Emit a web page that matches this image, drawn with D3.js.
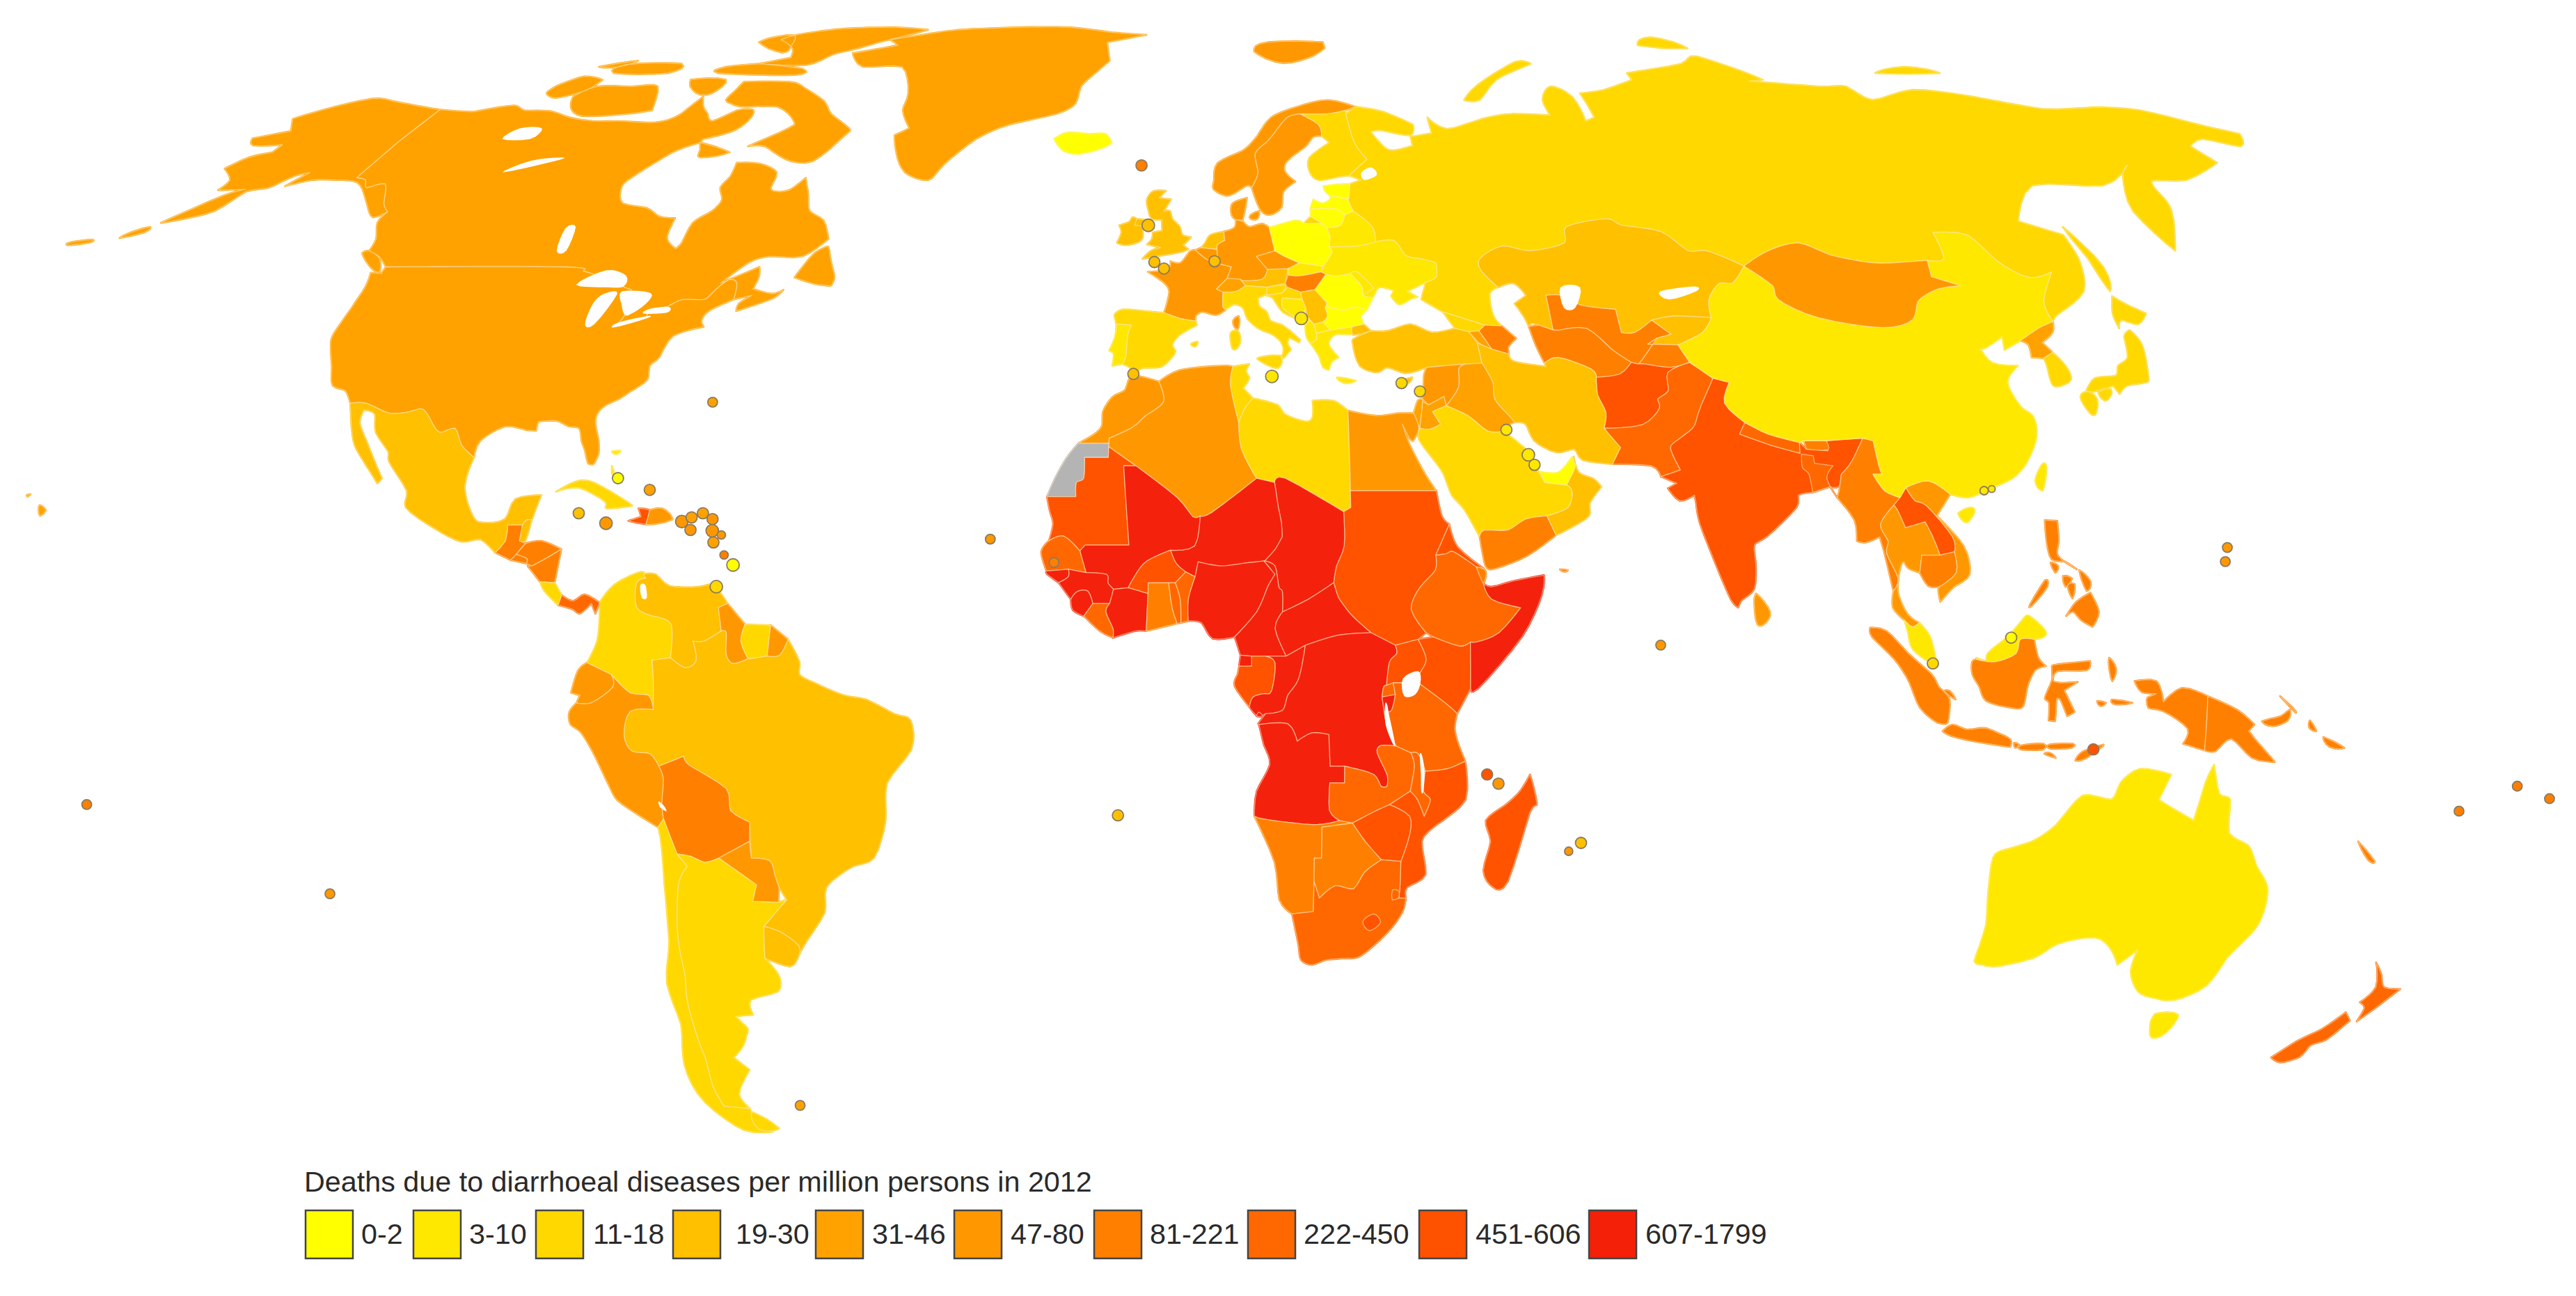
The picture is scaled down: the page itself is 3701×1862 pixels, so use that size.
<!DOCTYPE html>
<html><head><meta charset="utf-8"><title>Deaths due to diarrhoeal diseases</title>
<script src="https://cdn.jsdelivr.net/npm/d3@7"></script>
<style>html,body{margin:0;padding:0;background:#fff}svg{display:block}text{font-family:"Liberation Sans",Arial,sans-serif;fill:#2a2a2a}</style>
</head><body><svg id="map" width="3701" height="1862"></svg>
<script>
const legendTitle = "Deaths due to diarrhoeal diseases per million persons in 2012";
const binLabels = ["0-2","3-10","11-18","19-30","31-46","47-80","81-221","222-450","451-606","607-1799"];
const binColors = ["#FFFF00","#FFE800","#FFD800","#FFC000","#FFA200","#FF9800","#FF8000","#FF6800","#FF5200","#F42008"];
const noDataColor = "#B4B4B4";
// Robinson table
const robLat  = [0,5,10,15,20,25,30,35,40,45,50,55,60,65,70,75,80,85,90];
const robLen  = [1,.9986,.9954,.99,.9822,.973,.96,.9427,.9216,.8962,.8679,.835,.7986,.7597,.7186,.6732,.6213,.5722,.5322];
const robDrop = [0,.062,.124,.186,.248,.31,.372,.434,.4958,.5571,.6176,.6769,.7346,.7903,.8435,.8936,.9394,.9761,1];

const bin0 = ["Iceland","Poland","Estonia","Latvia","Lithuania","Romania","Bulgaria","UAE"];
const bin1 = ["China","Hainan","Taiwan","Australia","Tasmania","Malaysia","Belarus","Ukraine","Moldova","Slovakia","Portugal","Bosnia","Montenegro","Albania","Macedonia","Greece","Crete","Bahamas"];
const bin2 = ["Russia","NovayaZemlya","Sakhalin","Severnaya","NewSiberian","Finland","Spain","Balearic","Italy","Sicily","Sardinia","Slovenia","Croatia","Cuba","CostaRica","Colombia","Suriname","Chile","Argentina","TierraFuego","Saudi","Tunisia","Libya","Georgia","Japan","SKorea"];
const bin3 = ["Mexico","Belize","Venezuela","Brazil","Uruguay","UK","NIreland","Ireland","Netherlands","Austria","Serbia","Turkey","Thrace","Cyprus","Iran","Oman","Kazakhstan","Kyrgyzstan"];
const bin4 = ["Canada","USA","Alaska","Aleutians","Hawaii","Greenland","Switzerland","Armenia","Iraq","Jordan","Israel","NKorea"];
const bin5 = ["Norway","Svalbard","Sweden","Denmark","Germany","Belgium","France","Corsica","Czechia","Morocco","Algeria","Egypt","Syria","Mongolia","SriLanka","Thailand","Vietnam","Ecuador","Peru","Paraguay","Guyana","DomRep","FrGuiana"];
const bin6 = ["Hungary","Azerbaijan","Uzbekistan","Turkmenistan","Tajikistan","Yemen","Socotra","Bhutan","Myanmar","Cambodia","Indonesia","Philippines","PNG","NewCaledonia","Guatemala","Honduras","ElSalvador","Nicaragua","Bolivia","Ghana","Djibouti","Namibia","Botswana"];
const bin7 = ["Pakistan","Nepal","Bangladesh","NewZealand","Panama","Senegal","Liberia","Togo","Benin","Ethiopia","Rwanda","Tanzania","Zambia","Malawi","SouthAfrica","Swaziland"];
const bin8 = ["Afghanistan","India","Laos","Haiti","Sudan","Eritrea","Mauritania","BurkinaFaso","Gabon","Uganda","Kenya","Mozambique","Zimbabwe","Lesotho","Madagascar"];
const bin9 = ["Mali","Niger","Chad","GuineaBissau","Guinea","SierraLeone","IvoryCoast","Nigeria","Cameroon","CAR","EqGuinea","Congo","DRC","Burundi","Somalia","Angola"];
const binMembers = [bin0,bin1,bin2,bin3,bin4,bin5,bin6,bin7,bin8,bin9];
const noData = ["WesternSahara"];
const lakes = ["Superior","Michigan","Huron","Erie","Ontario","GreatBear","GreatSlave","Winnipeg","Victoria","Tanganyika","Nyasa","Maracaibo","Titicaca","Aral","Balkhash","Ladoga"];

// tiny-state markers: name, lon, lat, bin, radius (placed on the marker grid below)
const markers = [["Faroe",-5.8,62.6,6,8],["Man",-4.3,54.8,3,9],["Guernsey",-3.2,50.2,3,8],["Jersey",-1.7,49.4,3,8],["Luxembourg",6.2,50.3,3,8],["Montenegro",18.9,43.3,1,9],["Malta",14,36.3,1,9],["Gibraltar",-6,36.6,3,8],["CyprusM",32.6,35.5,2,8],["Lebanon",35.1,34.5,2,8],["Kuwait",46.7,29.9,1,8],["Bahrain",49.4,26.9,1,9],["Qatar",50.1,25.7,1,8],["Gambia",-16.5,14,6,7],["StHelena",-7.8,-16.3,3,8],["Comoros",42.5,-11.4,8,8],["Mayotte",44.1,-12.5,5,8],["Mauritius",55.9,-19.6,3,8],["Reunion",54.3,-20.6,5,6],["BahamasM",-77.3,24.1,0,8],["Turks",-72.7,22.7,4,8],["Cayman",-82.1,19.9,3,8],["Jamaica",-78.2,18.7,5,9],["PuertoRico",-67.8,18.9,5,9],["VirginIs",-66.5,19.4,4,8],["StKitts",-66.5,17.9,5,8],["Anguilla",-65,19.9,4,8],["Antigua",-63.6,19.2,5,8],["Guadeloupe",-63.5,17.8,5,9],["Dominica",-62.2,17.3,5,6],["Martinique",-63.2,16.4,4,8],["StVincent",-61.6,14.9,6,6],["Barbados",-60.3,13.7,0,9],["Trinidad",-62.4,11.1,2,9],["HongKong",112,22.6,1,6],["Macau",113.1,22.8,1,5],["Mariana",144,15.8,5,7],["Guam",143.4,14.1,5,7],["Brunei",113.3,5,0,8],["Singapore",102.6,1.9,2,8],["TimorLeste",124.7,-8.4,8,8],["Seychelles",65.8,4.1,5,7],["Bermuda",-65.9,33.2,4,7],["CapeVerde",-25.3,16.8,5,7],["CookIs",-148.7,-15,6,7],["Pitcairn",-117.7,-25.7,5,7],["Falkland",-59,-51.3,4,7],["Fiji",175.7,-15.8,6,7],["Wallis",183,-12.8,6,7],["Samoa",187.7,-14.3,6,7]];

const geo = {
Russia:["38,47.1 39.8,47.8 40,49.5 38,50 35.5,50.4 34,52.3 31,52.1 30.8,54 28,56 27.3,57.5 27.5,57.6 28,59.5 30,60 28,60.6 31.5,62.8 29.7,65 29,69 31,70 36,69.3 41,67.5 40,66 35,66.7 33,66.5 35,64.3 37,64 40,64.6 40,65.8 44,66.3 44,68.5 47,66.9 54,68.3 60,69 67,68.8 67,71 70,73 73,71.5 73,68 75,68.5 75,72 80,72.5 87,74 87,75 100,76.5 105,77.7 113,74 110,73.8 123,73 128,73 130,71 140,72.5 150,71.5 160,69.7 170,69.9 178,69.5 185,67.5 190,66.2 187,64.5 182,65.5 178,64.5 179,62.3 170,60 164,59.9 163,57.8 162,56 156.7,51 155.7,56 160,60.5 163,62 155,59.3 143,59.3 135.5,54.7 141,53 140.5,50 138,46 132,43.2 130.7,42.3 131,44.8 135,48.4 131,47.7 127.5,49.8 125.7,53 120.5,53.3 119.5,50 116.7,49.8 113,49.6 108,49.5 102,50.5 98,52 92,50.8 87.8,49.1 83,51 80,51 77,53.4 71,54.2 69,55 62,54 61,52 55,51 51,51.6 47,50 47,48.4 49,46.5 47.5,45.7 47.5,43 48.5,41.8 46,41.9 40,43.5 37,45","19.7,54.4 22.8,54.4 21,55.3"],
NovayaZemlya:["52,71 56,73.3 66,76.8 69,76.5 60,74 55,71"],Sakhalin:["142,54 143.5,49 142,46 142,50"],Severnaya:["95,79.5 105,79 100,81"],NewSiberian:["137,75 150,75 145,76"],
Canada:["-141,69.6 -135,69.3 -133,69.5 -128,70.2 -125,69.5 -120,69.4 -115,68.5 -110,68 -105,68 -100,67.8 -97,68 -95,69 -94,71.5 -92,70 -90,69 -88,68 -85,69.5 -82,69.5 -81.5,68 -83,66.5 -87,65.5 -87,65 -90,64 -92,62.5 -94.5,60 -94.5,58.8 -92.5,57 -88,56.4 -85,55.3 -82.3,55.1 -82,53 -81,52 -79.5,51.3 -79,52 -79,54.5 -77,56 -76.5,57.5 -78,59 -77.5,60.5 -78,62.3 -74,62.2 -70,61 -69.5,59 -68,58.5 -66,58.8 -64.5,60.3 -62.5,58 -61,56 -58,54.8 -56,52.5 -59,50.3 -64,50.3 -67,49.5 -70,47 -65,49 -64.5,47.8 -64.7,46.3 -61.5,45.7 -60,46.2 -61,45.2 -64,44.2 -66,43.6 -66,44.5 -64.5,45.5 -67,45 -67.5,47 -69,47.4 -70.5,46 -71.5,45 -74.7,45 -76.5,44.2 -79,43.5 -79,42.9 -83,42 -82.4,43.5 -83,46 -84.5,46.5 -88.4,48.2 -89.5,48 -92,48.5 -95,49 -123,49 -125,50.2 -127.5,51 -128,52.5 -130,54.5 -130,55.9 -132,57 -135,59.5 -137.5,59 -139,60 -141,60.3","-62,66 -65,62.5 -70,62.8 -75,64.5 -78,64.5 -73,67 -73,68 -78,70 -85,70 -89,71 -89,73.7 -80,73.7 -76,72.8 -70,70.8 -67,69 -62,67","-117,70 -113,68.7 -105,69 -101,69.5 -105,73 -110,73 -117,73 -119,71.5","-125,72 -122,71.3 -118,72.5 -117.5,74 -122,74.5 -125,73","-90,76.5 -80,76.3 -77,78 -73,79 -65,81.5 -62,82.5 -70,83 -82,82.7 -90,81.5 -92,80.5 -87,79 -85,77.5","-96,75 -80,74.7 -80,75.7 -90,76.5 -96,76","-96,80 -88,78.3 -88,79.5 -90,81.2 -93,81.3","-117,75 -106,75 -106,76.5 -117,76.4","-100,74 -96,72 -93,72 -93,74","-59,47.7 -55.5,46.9 -53,46.7 -52.8,47.6 -53.7,49 -55.5,51.5 -57.3,50.7","-128.3,50.7 -125,48.8 -123.4,48.4 -125,50.1 -127.5,51","-87,65 -80.5,63.7 -85,63 -86,64","-122,76 -116,77 -118,76"],
USA:["-123,49 -95,49 -92,48.5 -89.5,48 -88.4,48.2 -84.5,46.5 -83,46 -82.4,43.5 -83,42 -79,42.9 -79,43.5 -76.5,44.2 -74.7,45 -71.5,45 -70.5,46 -69,47.4 -67.5,47 -67,45 -70,43.7 -70.7,42.5 -70,41.7 -74,40.6 -75,38 -76,37 -75.7,35.3 -77.5,34 -79,33 -81,32 -81.5,30.5 -80.5,28.3 -80,26.5 -80.4,25.2 -81.2,25.3 -82,26.8 -82.8,28 -83.5,29.5 -85,29.7 -87,30.4 -89.5,30.3 -89.5,29.2 -91,29.3 -94,29.7 -97,28 -97.3,26 -99.5,27.5 -101,29.5 -103,29 -104.8,30.5 -106.5,31.8 -108.2,31.5 -111,31.3 -114.8,32.5 -117.1,32.5 -118.5,34 -120.6,34.6 -122,36.8 -123.8,39.5 -124.3,41 -124,44 -124,46.5 -124.7,48.3 -123,48.2"],
Alaska:["-141,69.6 -141,60.3 -139,60 -137.5,59 -135,59.5 -132,57 -130,55.9 -131.5,55.2 -134,56.5 -136.5,58 -140,59.7 -144,60 -148,60 -151.5,59.2 -150,61 -152,60.5 -154,59 -157,58.5 -158.5,56 -163,54.8 -165,54.5 -160,58 -157.5,58.8 -162,58.7 -162,60 -165.5,61.5 -164,63 -161,63.7 -161,64.7 -166,64.6 -168,65.6 -163,66.6 -166,68.3 -163,69.5 -157,71.2 -152,70.8 -145,70"],
Aleutians:["-169,52.6 -166,53.3 -166,54 -168,53.4","-176,51.7 -173,52 -173,52.4 -176,52.1"],Hawaii:["-156,20.3 -155,19.7 -155.6,19 -156,19.7","-158.2,21.5 -157.7,21.6 -158,21.3"],
Greenland:["-73,78.2 -68,76 -60,76 -55,72 -54,69.5 -51,67 -53,66 -51,63.5 -48,61 -43.5,60 -42,62 -38,65.5 -33,67.5 -25,69 -22,70.5 -22,73 -20,75 -18,77 -20,80 -12,81.5 -20,82 -30,83 -42,83 -55,82.5 -62,81.5 -68,80.5 -65,79.5"],
Iceland:["-24,65.5 -22,64 -19,63.5 -15,64.3 -13.6,65 -15,66.2 -18,66.2 -22,66.4"],
UK:["-5.7,50 -3.5,50.3 0,50.8 1.4,51.2 0.5,51.7 1.7,52.7 0.3,53 -0.2,54 -1.5,55 -2,56 -3,56 -2,57.5 -4,57.7 -3,58.6 -5,58.6 -6,57.5 -5.5,56 -4.8,55 -3.2,54.9 -3,53.5 -4.5,53.3 -4.5,52.5 -5.2,51.8 -3,51.4 -4.5,51"],NIreland:["-7.3,55 -5.6,54.8 -5.6,54.2 -6.3,54.1 -7.5,54.2"],Ireland:["-6.3,54.1 -6,53 -6.4,52.2 -8.5,51.7 -10,52 -9.5,53.3 -10,54.2 -8.5,54.6 -8,55.2 -7.3,55 -7.5,54.2"],
France:["-1.8,43.4 -1.2,46 -2.5,47.3 -4.7,48.4 -1.6,48.7 -1.3,49.7 0.3,49.5 1.6,50.9 2.5,51.1 4.2,50 5.8,49.5 8.2,49 7.6,47.6 6,46.3 7,45.9 7,44.2 7.5,43.8 6,43.1 4,43.5 3,43 3,42.4 0.7,42.7"],Corsica:["8.6,42.5 9.4,43 9.5,42 9.2,41.4 8.7,41.8"],
Spain:["-9.2,43.1 -8,43.8 -3.5,43.5 -1.8,43.4 0.7,42.7 3,42.4 3.2,41.9 0.7,40.7 -0.3,39.5 0.2,38.7 -0.7,37.6 -2,36.8 -4.5,36.7 -5.6,36 -6.4,36.8 -7.4,37.2 -7,38.2 -7,39.7 -6.9,41 -6.5,41.9 -8.1,42 -8.8,42"],Portugal:["-8.8,42 -8.1,42 -6.5,41.9 -6.9,41 -7,39.7 -7,38.2 -7.4,37.2 -8.9,37 -8.8,38.4 -9.5,38.8 -8.8,40.5"],Balearic:["2.4,39.6 3.4,39.9 3.1,39.3"],
Belgium:["2.5,51.1 3.4,51.4 5.9,51.2 6,50.1 5.8,49.5 4.2,50"],Netherlands:["3.4,51.4 4,52 4.8,53 6.9,53.4 7.1,52.3 6,51.8 5.9,51.2"],
Germany:["6.9,53.4 8.6,53.9 8.8,54.9 9.9,54.7 11,54 13,54.4 14.2,53.9 14.6,52.5 15,51 12.1,50.3 13.8,48.7 13,47.5 10,47.3 7.6,47.6 8.2,49 5.8,49.5 6,50.1 5.9,51.2 6,51.8 7.1,52.3"],
Denmark:["8.1,55.5 8.2,57 10.6,57.7 10.3,56.2 9.9,54.8 8.8,54.9","11.2,55.5 12.6,56 12.3,55 11.2,55"],
Switzerland:["6,46.3 7.6,47.6 9.6,47.5 10.4,46.7 9,46 7,45.9"],Austria:["9.6,47.5 10,47.3 13,47.5 13.8,48.7 17,48.8 16.5,47 13.7,46.5 10.4,46.7"],
Italy:["7,45.9 9,46 10.4,46.7 13.7,46.5 13.6,45.7 12.3,45.2 12.5,44.2 13.6,43.5 14.2,42.4 16.1,41.8 18.5,40.1 18.3,39.8 16.9,40.4 16.6,39.7 17.1,39 16.1,38 15.7,38 16,39 15.5,40 14.3,40.8 12.5,41.4 11,42.4 10.5,43 10,44 8.7,44.4 7.5,43.8 7,44.2"],Sicily:["12.5,38 15.6,38.2 15.1,36.7 12.5,37.6"],Sardinia:["8.2,40.9 9.3,41.2 9.7,40 9.2,39.1 8.5,39.1"],
Czechia:["12.1,50.3 15,51 16.8,50.2 18.8,49.5 17,48.8 13.8,48.7"],Slovakia:["17,48.8 18.8,49.5 22.5,49.1 22.1,48.4 18.8,47.9 17,48"],
Poland:["14.2,53.9 18.5,54.8 19.7,54.4 23,54.3 23.9,52.7 23.6,51.5 24,50.8 22.5,49.1 18.8,49.5 16.8,50.2 15,51 14.6,52.5"],
Hungary:["16.5,47 17,48 18.8,47.9 22.1,48.4 22.8,48.1 21,46.2 18.8,45.9 16.8,46.5"],Slovenia:["13.7,46.5 16.5,46.8 16,45.8 13.6,45.5"],
Croatia:["13.6,45.5 16,45.8 16.8,46.5 18.8,45.9 19,45 16,45.2 16,44 17.6,43 18.5,42.5 16,43.5 14.6,45.1"],Bosnia:["16,45.2 19,45 19.5,44 18.5,42.6 17.6,43 16,44"],
Serbia:["18.8,45.9 21,46.2 22.7,44.6 22.4,44 22.7,43 22,42.3 20.6,42 19.6,43 19.5,44 19,45"],Montenegro:["18.5,42.5 19.6,43 20,42.5 19.3,41.9"],Albania:["19.3,41.9 20,42.5 20.6,42 20.9,40.9 20.9,40.2 20,39.7 19.4,40.5"],Macedonia:["20.6,42 22,42.3 23,41.3 20.9,40.9"],
Greece:["20,39.7 20.9,40.2 20.9,40.9 23,41.3 26.3,41.7 26,40.8 24,40.8 23,40.3 22.7,39.4 24,38 23,37.5 22.5,36.5 21.7,36.8 21.3,37.8 21,38.4"],Crete:["23.6,35.6 26.3,35.2 24.7,34.9"],
Bulgaria:["22.7,44.2 22.4,44 22.7,43 22,42.3 23,41.3 26.3,41.7 28,42 27.7,43 28.6,43.7 27,44.1 25,43.7"],Romania:["21,46.2 22.8,48.1 24.5,47.9 26.6,48.2 28.2,46.6 28.2,45.5 29.7,45.2 28.6,43.7 27,44.1 25,43.7 22.7,44.2 22.7,44.6"],Moldova:["26.6,48.2 27.7,48.4 30,46.4 28.2,45.5 28.2,46.6"],
Ukraine:["24,50.8 22.5,49.1 22.1,48.4 22.8,48.1 24.5,47.9 26.6,48.2 27.7,48.4 30,46.4 28.2,45.5 29.7,45.3 30.8,46.5 33,46.1 32.5,45.4 33.6,44.4 35.5,45.1 36.5,45.3 35,46 38,47.1 39.8,47.8 40,49.5 38,50 35.5,50.4 34,52.3 31,52.1 28,51.6 23.6,51.5"],
Belarus:["23.6,51.5 28,51.6 31,52.1 30.8,54 28,56 26.5,55.5 25.7,54.2 23.5,53.9 23.9,52.7"],Lithuania:["21,55.3 21,56.3 25,56.3 26.5,55.5 25.7,54.2 23.5,53.9 22.8,54.4"],Latvia:["21,56.3 21.6,57.5 23,57 24.4,57.5 24.4,58 27.3,57.5 28,56 26.5,55.5 25,56.3"],Estonia:["23.5,59.2 28,59.5 27.5,57.6 24.4,58"],
Norway:["5,58.8 7,58 8.5,58.3 10.6,59.3 11.4,59 12.5,61 12,63.5 14,65 15.5,66.3 18,68.5 20.5,69 25.5,69 29,69.5 31,70 26,71 20,70 15,68.5 12.5,66 10,64 5.5,62.3 5,60"],Svalbard:["12,78.5 18,76.6 25,78 27,80 15,80"],
Sweden:["11.4,59 12.7,56.3 14.3,55.5 16.3,56.5 16.7,58.5 18.8,59.8 17.2,61 17.5,62.5 21,64.5 22.5,65.8 24,65.9 23.7,67.5 20.5,69 18,68.5 15.5,66.3 14,65 12,63.5 12.5,61"],
Finland:["24,65.9 25.3,65 21.5,63 21.4,61 22.8,60 26,60.4 28,60.6 31.5,62.8 29.7,65 29,69 29,69.5 25.5,69 20.5,69 23.7,67.5"],
Kazakhstan:["47,48.4 47,50 51,51.6 55,51 61,52 62,54 69,55 71,54.2 77,53.4 80,51 83,51 87.8,49.1 85,47 83,47 80.5,45 80,42.8 74.5,43 71,42.5 68,41 66,41 66,43.8 61,44.3 58.5,45.5 56,45.5 56,41.3 54,41.9 53,42.1 52.5,41.7 52,43 51,44.5 53,45.5 51.5,47 49,46.5"],
Uzbekistan:["56,45.5 58.5,45.5 61,44.3 66,43.8 66,41 68,41 71,42.5 73.3,40.8 71,40.3 68.5,38 67.5,37.2 66.5,37.4 64,39 61,41.5 57,41.3 56,41.3"],
Turkmenistan:["52.5,41.7 54,41.9 56,41.3 57,41.3 61,41.5 64,39 66.5,37.4 64.5,36 61,35.6 60.5,36.6 56,38 53.9,37.3 53,39.5"],
Kyrgyzstan:["71,42.5 74.5,43 80,42.8 78,41 73.9,39.5 69.5,39.6 71,40.3 73.3,40.8"],Tajikistan:["68.5,38 71,40.3 69.5,39.6 73.9,39.5 75,37.4 72,36.8 68.5,37.2 67.5,37.2"],
Afghanistan:["61,35.6 64.5,36 66.5,37.4 67.5,37.2 68.5,37.2 72,36.8 75,37.4 71.5,36.2 71,34 69.3,33 69.3,31.9 66.4,29.9 61,29.5 61.6,31.4 60.8,33.5"],
Pakistan:["61,29.5 66.4,29.9 69.3,31.9 69.3,33 71,34 71.5,36.2 75,37.4 77.8,35.5 75.5,32.5 74.5,31 73.5,29.5 71,28 70,27 71,24.5 68.2,23.7 67,25 61.6,25.2 63,27.2"],
India:["77.8,35.5 80,35 78.7,32.5 81,30.2 80,28.8 84,27.5 88,26.5 88.2,27.8 89,27 92,26.8 92,28 97.2,28.3 95,25.5 93.3,24 92.7,22.5 91.5,22.5 89,21.8 87,21.5 86.5,20 82,16.5 80.2,15.5 80.2,13.5 79.8,10.3 78,8.9 77.5,8 76.5,9 74.8,13 73,18 72.7,20.5 72.6,21.5 70.5,20.8 69,22.3 70.3,22.9 68.2,23.7 71,24.5 70,27 71,28 73.5,29.5 74.5,31 75.5,32.5"],
Bangladesh:["88.2,26.4 89.8,26.2 89.8,25.3 92.3,25 91.2,23.5 92.3,21.2 91.5,22.5 89,21.8 88.8,24 88,24.8"],Nepal:["80,28.8 81,30.2 84,28.8 88.2,27.8 88,26.5 84,27.5"],Bhutan:["89,27 88.9,28 92,28 92,26.9"],SriLanka:["80,9.7 81.8,7.5 81,6.1 80,6 79.7,8"],
Myanmar:["92.3,21.2 92.7,22 93.3,24 95,25.5 97.2,28.3 98.6,28 98.7,25 99,24 97.7,24 99,22 101,21.2 100,20.3 97.8,18 98.6,16 98.2,14.5 99.5,11.5 98.7,10 98,14 97.5,16.5 95.5,15.8 94.3,16 94.3,18.5"],
Thailand:["97.8,18 100,20.3 100.5,19.5 101.2,17.6 104,18.3 104.8,16.5 105.5,14.3 103,14.3 102.5,12.2 101,12.7 100.5,13.5 100,13 99.3,10 100.5,7.2 102,6.2 101,5.7 100,6.5 98.5,8 98.7,10 99.5,11.5 98.2,14.5 98.6,16"],
Laos:["100,20.3 101,21.2 102,22.4 103,20.8 104.5,20.2 107.5,16.5 107.5,14.7 105.5,14.3 104.8,16.5 104,18.3 101.2,17.6 100.5,19.5"],Cambodia:["102.5,12.2 103,14.3 105.5,14.3 107.5,14.7 107.5,12.2 105,10.5 103.5,10.6"],
Vietnam:["102,22.4 105.3,23.2 108,21.6 105.7,19 108.8,15.5 109.3,12 107,10.5 105,8.7 104.8,10 105,10.5 107.5,12.2 107.5,14.7 107.5,16.5 104.5,20.2 103,20.8"],
Malaysia:["100,6.5 101,5.7 102,6.2 103.4,4.5 104.2,1.4 103.4,1.4 101,3 100.4,5","109.6,1.8 112,1.5 115,2.5 115.6,4.2 117.5,4.2 118.8,4.5 119,5.3 117,7 116,6.5 113.9,4.5 111.2,2.6 111,1.5 109.6,2"],
Indonesia:["109,1.5 109.6,1.8 112,1.5 115,2.5 115.6,4.2 117.5,4.2 118,2 119,1 117.5,0.5 116.5,-1.5 116,-3.8 114.5,-4 111,-3.2 110,-1.5 109,0","95.3,5.6 97.5,5.2 100.4,2.5 103.5,0 104.5,-1.5 106,-3 105.8,-5.8 104.5,-5.8 102,-4 100.5,-1 98.5,1.8 95.5,4.5","105.2,-6.8 106.5,-6 108.5,-6.6 110.8,-6.4 112.7,-7 114.5,-7.8 114.5,-8.7 110,-8.1 106.5,-7.4","115,-8.2 115.7,-8.4 115.2,-8.8","116,-8.5 119,-8.3 119,-9 116,-9","119.8,-8.4 123,-8.3 122.8,-8.8 120,-8.9","119.2,-9.5 120.8,-10 120,-9.4","123.5,-10.3 124.5,-9.2 127.2,-8.4 126.5,-9 124.8,-10.1","119.8,0.8 120.5,1.2 125,1.6 124.5,0.5 120.5,0.4 120,-0.8 121,-1 123.3,-0.9 121.5,-1.9 123,-4.5 122,-5 121,-3 120.5,-3 120.4,-5.6 119.5,-5.5 119.5,-3.4 118.9,-2.8 119.8,-0.7","127.6,2 128.5,0.7 128,-0.8 127.6,0.5","128,-3 130.8,-3.4 128.5,-3.6","126,-3.2 127.2,-3.4 126.5,-3.8","106,-2 106.8,-3 105.2,-2","131,-0.8 134,-0.8 135,-3.3 137.5,-1.6 141,-2.6 141,-9.1 138,-8.3 138.5,-6.5 135,-4.4 133,-4 132.8,-2.8 134,-2.3 132,-2.1"],
PNG:["141,-2.6 145,-4.2 147.5,-6 146.8,-6.8 148,-8 150.7,-10.5 147.5,-10 144.5,-7.7 142.5,-9.2 141,-9.1","148.5,-5.6 151,-5 152.2,-4.2 152,-5.5 150,-6.2","150.8,-2.6 153,-4.6 152.6,-4","155,-5.5 156,-6.8 155,-6.4","157,-7.5 160,-8.8 158,-8.7"],NewCaledonia:["164,-20 167,-22.4 166,-22.2"],
Philippines:["120.5,18.5 122.2,18.4 122,16 121.6,14.2 124,12.6 122.5,13.5 120.7,13.8 120.3,15.8","122,7 123.5,8.7 125.5,9.8 126.5,7.5 125.5,5.7 124,6.5 123,7.5","124.3,12.5 125.7,11.1 125,10","122,11.8 123.2,11.5 122.2,10.5","122.5,10.7 123.5,10.8 123,9.1","117.2,8.4 119.5,11.3 119.7,10.5 117.5,8.3","120.5,13.4 121.5,13 121,12.2"],
Taiwan:["121.5,25.2 122,24.8 120.9,22 120.1,23.2"],
China:["73.9,39.5 78,41 80,42.8 80.5,45 83,47 85,47 87.8,49.1 91,46.7 91,45 96,42.8 105,41.6 110,42.6 112,44.8 116,46.3 119.7,46.7 116,47.8 116.7,49.8 119.5,50 120.5,53.3 125.7,53 127.5,49.8 131,47.7 135,48.4 131,44.8 130.7,42.3 128,41.5 124.4,40 121.5,38.9 122,40.5 119,39.2 118,39 119,37.3 122.5,37 120,35 120.8,32 122,31 121.7,28.5 119.5,25.5 117,23.5 113.7,22.3 110.5,21.2 108,21.6 105.3,23.2 102,22.4 101,21.2 99,22 97.7,24 99,24 98.7,25 98.6,28 97.2,28.3 92,28 88.9,28 88.2,27.8 84,28.8 81,30.2 78.7,32.5 80,35 77.8,35.5 75,37.4"],Hainan:["108.7,19.3 110.5,20 111,19.5 109.7,18.2"],
Mongolia:["87.8,49.1 92,50.8 98,52 102,50.5 108,49.5 113,49.6 116.7,49.8 116,47.8 119.7,46.7 116,46.3 112,44.8 110,42.6 105,41.6 96,42.8 91,45 91,46.7"],
NKorea:["124.4,40 128,41.5 130.7,42.3 129.8,41 127.5,39.8 128.4,38.6 126.7,37.9 125,38 125.3,39.5"],SKorea:["126.7,37.9 128.4,38.6 129.4,37 129.3,35.3 127,34.5 126.3,35 126.7,37"],
Japan:["130.9,34 132.8,35.5 136,35.8 137,37 139,38 140,40.5 141.4,41.3 142,39.5 140.8,36 140,35 137,34.6 135.5,33.6 135,34.6 132,33.9","129.7,33.2 131,33.9 132,33 131,31.2 130.2,31.4","132.5,33.8 134.5,34.2 134,33.3 133,32.8","140,41.5 140.3,43.3 141.8,45.4 143,44.5 145.3,43.3 143.2,42 141,42.5"],
Turkey:["26.2,39.5 27,37 29.5,36.2 31,36.8 33.5,36.1 36,36.6 36.7,36.8 42.3,37.2 44.8,37.3 44.5,39.7 43.5,41.1 41.5,41.5 38,41 35,42 31.5,41.2 29,41.2 26.5,40.3"],Thrace:["26.3,41.7 28,42 29,41.2 26.3,40.7"],Cyprus:["32.3,35 34.5,35.6 33.5,34.7"],
Georgia:["40,43.5 46,41.9 45,41.2 43.5,41.1 41.5,41.5"],Armenia:["43.5,41.1 45,41.2 46.5,39 44.8,39.7"],Azerbaijan:["45,41.2 46,41.9 48.5,41.8 50.3,40.3 49,39.3 48.9,38.4 46.5,39"],
Iran:["44.8,37.3 44.5,39.7 46.5,39 48.9,38.4 49.5,37.5 54,36.9 53.9,37.3 56,38 60.5,36.6 61,35.6 60.8,33.5 61.6,31.4 61,29.5 63,27.2 61.6,25.2 57.5,25.7 56.5,27 54,26.6 51,28 50,30 48.5,30.2 47.8,31 46,33 46,35"],
Iraq:["42.3,37.2 44.8,37.3 46,35 46,33 47.8,31 48.5,30.2 47.9,30 46.5,29.1 44.5,29.2 42,31 39,32.2 41,34.4 41.3,36.6"],
Syria:["36.2,35.9 36.7,36.8 42.3,37.2 41.3,36.6 41,34.4 39,32.2 38.8,33.3 36.5,32.3 35.7,33 36,34.6"],Jordan:["35.7,32.7 36.5,32.3 38.8,33.3 39,32.2 37,31.5 38,30 36.5,29.4 35,29.5 35.4,31.3"],Israel:["34.3,31.3 35,32.8 35.7,33 35.7,32.7 35.4,31.3 35,29.5"],
Saudi:["35,29.5 36.5,29.4 38,30 37,31.5 39,32.2 42,31 44.5,29.2 46.5,29.1 47.7,28.5 48.8,27.7 50,26.7 50.2,25.5 51,24.6 52,23 55,22.7 55.7,22 55,20 52,19 49,18.6 46.5,17.3 43.3,17.3 42.6,16.5 40.7,19.7 39,21.5 38,24 36.5,26 34.8,28.2"],
Yemen:["42.6,16.5 43.3,17.3 46.5,17.3 49,18.6 52,19 53.1,16.7 49,14.2 45,12.8 43.5,12.7 43,14"],Socotra:["53.4,12.6 54.5,12.5 54,12.3"],
Oman:["52,19 55,20 55.7,22 55,22.7 56,24.2 56.3,26.1 56.8,24.2 58.7,23.5 59.8,22.5 58,20.5 57.8,19 55,17.5 53.1,16.7"],UAE:["51.5,24.3 54,24.2 56,26 56.4,25 56,24.2 55,22.7 52,23"],
Morocco:["-5.9,35.8 -2,35.1 -1.2,32.7 -3.7,31 -5.5,29.6 -8.7,28.3 -8.7,27.7 -13,27.7 -11,28.7 -9.8,29.8 -9.8,31.5 -8.5,33.3 -6.8,34.1"],
WesternSahara:["-13,27.7 -8.7,27.7 -8.7,26 -12,26 -12,23.5 -13,23 -13,21.3 -17,21.3 -16,23.5 -14.5,26"],
Mauritania:["-17,21.3 -13,21.3 -13,23 -12,23.5 -12,26 -8.7,26 -8.7,27.3 -4.8,25 -6.5,25 -5.5,15.5 -9.5,15.5 -11.5,15.5 -12.2,14.8 -14.5,16.6 -16.5,16 -16,18 -16.5,19.5"],
Algeria:["-8.7,27.3 -8.7,28.3 -5.5,29.6 -3.7,31 -1.2,32.7 -2,35.1 1,36.5 7,37 8.6,36.9 8.3,34.6 9.5,30.2 9.9,27 12,23.5 5.8,19.4 4.2,19 3.2,18.9 1,21.2 -4.8,25"],
Tunisia:["8.6,36.9 11,37.2 10.5,36.3 11,35.5 10.1,34.3 11.5,33.1 10.3,31.8 9.5,30.2 8.3,34.6"],
Libya:["9.5,30.2 10.3,31.8 11.5,33.1 15,32.3 16,31.2 19,30.3 20,31 20,32.8 23,32.8 25,31.6 25,20 24,19.5 16,23.5 14.5,23 12,23.5 9.9,27"],
Egypt:["25,31.6 29,31 32,31.3 34.3,31.3 34.9,29.5 34,28 33.5,28.3 32.6,30 33.5,27.5 35.5,23.9 36.9,22 25,22"],
Sudan:["25,22 36.9,22 37.5,19 38.5,18 36.5,14.3 36.4,12.5 34.3,10.5 33,7.8 35,5 33.9,4.2 30.8,3.5 27.5,5 25,7 23.5,8.7 23,9.5 22.5,11 22.9,13 24,15.5 24,19.5 25,20"],
Chad:["14.5,23 16,23.5 24,19.5 24,15.5 22.9,13 22.5,11 19,9 15.5,7.5 15.5,9.9 15,10.5 14.5,13 13,13.6 13.5,14 15.5,16.5 15,20"],
Niger:["12,23.5 14.5,23 15,20 15.5,16.5 13.5,14 13,13.6 10,13.3 7,13 4,13.5 3.6,11.7 2.3,12.3 1,13.3 0.2,14.9 3.5,15.4 4.2,19 5.8,19.4"],
Mali:["-12.2,14.8 -11.5,15.5 -5.5,15.5 -6.5,25 -4.8,25 1,21.2 3.2,18.9 4.2,19 3.5,15.4 0.2,14.9 -3,13.6 -4.5,12 -5.5,10.4 -7.5,10.2 -8.3,11 -8.5,12 -11.3,12.2"],
Senegal:["-17.5,14.7 -16.5,16 -14.5,16.6 -12.2,14.8 -11.3,12.2 -13.7,12.6 -16.7,12.4"],GuineaBissau:["-16.7,12.4 -13.7,12.6 -13.7,11.7 -15,11 -16.6,12"],
Guinea:["-15,11 -13.7,11.7 -13.7,12.6 -11.3,12.2 -8.5,12 -8.3,11 -7.5,10.2 -8,8.5 -9.5,8.5 -10.3,8.5 -11,10 -12.5,9.9 -13.3,9"],SierraLeone:["-13.3,9 -12.5,9.9 -11,10 -10.3,8.5 -11.5,7 -13,7.7"],
Liberia:["-11.5,7 -10.3,8.5 -9.5,8.5 -8,8.5 -8.5,7.5 -7.5,5.5 -7.5,4.4 -9.3,5.2"],IvoryCoast:["-7.5,4.4 -7.5,5.5 -8.5,7.5 -8,8.5 -7.5,10.2 -5.5,10.4 -2.8,9.7 -3,5.2 -4.5,5.2"],
Ghana:["-3,5.2 -2.8,9.7 -2.8,11 0,11 0.5,8 1.2,6.1"],Togo:["1.2,6.1 0.5,8 0,11 0.9,11 1.6,9 1.7,6.2"],Benin:["1.7,6.2 1.6,9 0.9,11 2.3,12.3 3.6,11.7 2.7,9 2.7,6.4"],
BurkinaFaso:["-5.5,10.4 -4.5,12 -3,13.6 0.2,14.9 1,13.3 2.3,12.3 0.9,11 -2.8,11 -2.8,9.7"],
Nigeria:["2.7,6.4 2.7,9 3.6,11.7 4,13.5 7,13 10,13.3 13,13.6 14.5,12 13.5,10.5 12,7.5 9,4.5 6,4.3 4.5,6.2"],
Cameroon:["9,4.5 12,7.5 13.5,10.5 14.5,12 13,13.6 14.5,13 15,10.5 15.5,9.9 15.5,7.5 14.5,5.5 16,2.2 13.2,2.2 11.3,2.2 9.8,2.3"],
CAR:["14.5,5.5 15.5,7.5 19,9 22.5,11 23,9.5 23.5,8.7 25,7 27.5,5 23,4.7 18.6,3.5 16,2.2"],
EqGuinea:["9.8,2.3 11.3,2.2 11.3,1 9.6,1"],Gabon:["9.6,1 11.3,1 11.3,2.2 13.2,2.2 14.5,1.4 14,-2 13,-2.3 11.5,-2.7 11,-3.9 9,-1.4 9.4,0"],
Congo:["11,-3.9 11.5,-2.7 13,-2.3 14,-2 14.5,1.4 13.2,2.2 16,2.2 18.6,3.5 17.7,-0.5 16.2,-2.5 15.5,-4.3 13.2,-4.7 12.1,-5"],
DRC:["12.3,-6 16.2,-5.9 17.5,-8 19.5,-7 21.8,-7.2 22,-11 24,-11 25,-11.2 28,-12 29,-13.4 29.8,-13.4 29.8,-12 28.4,-9.4 29,-8.5 31,-8.6 29.8,-6.5 29.3,-4.5 29,-2.7 29.2,-1.5 29.6,-1.3 30,1.5 31,2.5 30.8,3.5 27.5,5 23,4.7 18.6,3.5 17.7,-0.5 16.2,-2.5 15.5,-4.3 13.2,-4.7 12.2,-5.9"],
Uganda:["29.6,-1.3 30,1.5 31,2.5 30.8,3.5 33.9,4.2 35,1.8 34,0 33.9,-1 30.5,-1"],Rwanda:["29,-2.7 29.2,-1.5 29.6,-1.3 30.5,-1 30.8,-2.4"],Burundi:["29,-2.7 30.8,-2.4 30.3,-4.3 29.3,-4.5"],
Kenya:["33.9,4.2 36,4.5 39.5,3.4 41,3.9 41,-1.7 39.2,-4.7 37.7,-3.5 33.9,-1 34,0 35,1.8"],
Tanzania:["30.5,-1 33.9,-1 37.7,-3.5 39.2,-4.7 38.9,-6.5 39.5,-8.5 40.4,-10.4 38,-11.3 35,-11.6 34,-9.5 33,-9.4 31,-8.6 29.8,-6.5 29.3,-4.5 30.3,-4.3 30.8,-2.4"],
Ethiopia:["36.5,14.3 38,14.5 39,14.7 42,12.9 42.8,11.4 42.9,10.9 44,9 47.9,8 44.9,5 41.9,3.9 41,3.9 39.5,3.4 36,4.5 35,5 33,7.8 34.3,10.5 36.4,12.5"],
Eritrea:["36.5,14.3 38.5,18 39.5,15.3 43,12.7 42,12.9 39,14.7 38,14.5"],Djibouti:["42,12.9 43.2,12.5 43.2,11.5 42.8,11"],
Somalia:["42.9,10.9 44,10.5 47,11.2 51.2,11.9 50.8,9.5 48,4.5 42,-1.7 41,-1.7 41,3.9 41.9,3.9 44.9,5 47.9,8 44,9"],
Angola:["11.7,-17 12,-14 13.8,-10.8 13,-8.5 12.3,-6 16.2,-5.9 17.5,-8 19.5,-7 21.8,-7.2 22,-11 24,-11 24,-13 22,-13 22,-16.3 23.4,-17.5 20,-18 13.5,-17.4","12,-5 12.8,-5 12.3,-4.5"],
Namibia:["11.7,-17 13.5,-17.4 20,-18 23.4,-17.5 25.2,-17.8 21,-18.3 21,-22 20,-22 20,-28.4 17,-28.7 15.2,-27 14.5,-22.5"],
Botswana:["21,-18.3 25.2,-17.8 27,-20 29.3,-22.2 27,-23.7 25.5,-25.7 23,-25.3 20.8,-26.8 20,-24.8 20,-22 21,-22"],
Zambia:["22,-13 24,-13 24,-11 25,-11.2 28,-12 29,-13.4 29.8,-13.4 29.8,-12 28.4,-9.4 29,-8.5 31,-8.6 33,-9.4 33.5,-11 33,-14 30.2,-15.6 28,-16.5 25.2,-17.8 23.4,-17.5 22,-16.3"],
Malawi:["33,-9.4 34,-9.5 35,-11.6 34.8,-14 35.8,-15 35,-17 34,-15 33,-14 33.5,-11"],
Mozambique:["40.4,-10.4 40.6,-15 36.8,-18 34.8,-20 35.5,-24 33,-25.5 32.9,-26.8 31.9,-26.8 32,-25.5 32,-22.4 33,-19.5 33,-17 30.2,-15.6 33,-14 34,-15 35,-17 35.8,-15 34.8,-14 35,-11.6 38,-11.3"],
Zimbabwe:["25.2,-17.8 28,-16.5 30.2,-15.6 33,-17 33,-19.5 32,-22.4 29.3,-22.2 27,-20"],
SouthAfrica:["17,-28.7 20,-28.4 20,-24.8 20.8,-26.8 23,-25.3 25.5,-25.7 27,-23.7 29.3,-22.2 32,-22.4 32,-25.5 31.9,-26.8 32.9,-26.8 32.5,-28.5 30.5,-31 27,-33.7 25,-34 22,-34.2 20,-34.8 18.4,-34.2 18,-32.5"],
Lesotho:["27,-29.6 28.5,-28.7 29.5,-29.7 28,-30.7"],Swaziland:["31,-25.8 31.9,-26 31.9,-26.8 31,-27"],
Madagascar:["49.3,-12 50.4,-15.5 49.5,-16.5 47,-24.8 45,-25.5 43.5,-23.5 44.3,-20 43.5,-17.5 46,-15.7 48,-14"],
Colombia:["-77.4,8.6 -75.5,10.8 -72,12.3 -71.3,11.5 -72.5,11 -72.3,8 -70,7 -67.5,6 -67.5,2 -70,1.7 -69.8,-0.5 -69.9,-4.2 -70.5,-2.5 -73,-2.2 -75.5,0 -78.8,1.4 -77.5,4 -77.3,7"],
Venezuela:["-71.3,11.5 -71.7,12 -70,12 -68,10.6 -64,10.5 -62,10.7 -60,8.5 -61.2,8 -60.7,5.2 -63,4 -64.5,4 -64,1.7 -65.5,0.8 -67.5,2 -67.5,6 -70,7 -72.3,8 -72.5,11"],
Guyana:["-60,8.5 -57.5,6 -58,4 -57,1.9 -59,1.3 -60,2.5 -60,5 -60.7,5.2 -61.2,8"],Suriname:["-57.5,6 -54,5.9 -54.4,2.2 -56.5,1.9 -57,1.9 -58,4"],FrGuiana:["-54,5.9 -51.6,4.2 -52.7,2.3 -54.4,2.2"],
Brazil:["-51.6,4.2 -50,1.5 -50,0 -48,-1 -44,-2.5 -41,-3 -37,-4.8 -35,-5.5 -35,-9 -38.5,-13 -39,-17.5 -41,-22 -44,-23 -48,-25.5 -48.7,-28.5 -52,-32 -53.5,-33.7 -53.2,-32.5 -55.5,-30.8 -57.6,-30.2 -53.8,-27 -54.6,-25.5 -55,-24 -55.5,-22.3 -58,-22 -57.7,-17.7 -60.2,-16.3 -60.5,-13.7 -65.3,-10.9 -66,-9.8 -69.5,-11 -70.6,-9.5 -73,-9.2 -74,-7.3 -73,-4.4 -69.9,-4.2 -69.8,-0.5 -70,1.7 -67.5,2 -65.5,0.8 -64,1.7 -64.5,4 -63,4 -60.7,5.2 -60,5 -60,2.5 -59,1.3 -57,1.9 -56.5,1.9 -54.4,2.2 -52.7,2.3"],
Ecuador:["-78.8,1.4 -75.5,0 -75.3,-1.5 -78.3,-3.4 -80.3,-3.4 -79.8,-2.5 -81,-2.2 -80,0.5"],
Peru:["-81.3,-4.5 -80.3,-3.4 -78.3,-3.4 -75.3,-1.5 -75.5,0 -73,-2.2 -70.5,-2.5 -69.9,-4.2 -73,-4.4 -74,-7.3 -73,-9.2 -70.6,-9.5 -69.5,-11 -69,-12.5 -69.5,-15.5 -69.5,-17.3 -70.4,-18.3 -75,-15.5 -76.3,-13.8 -78,-10 -79.8,-7 -81.2,-6"],
Bolivia:["-69.5,-11 -66,-9.8 -65.3,-10.9 -60.5,-13.7 -60.2,-16.3 -57.7,-17.7 -58,-20 -62.5,-22 -64.5,-22.5 -66.3,-21.8 -68.2,-21.5 -69.5,-17.3 -69.5,-15.5 -69,-12.5"],
Paraguay:["-58,-20 -58,-22 -55.5,-22.3 -55,-24 -54.6,-25.5 -55,-27.3 -58.6,-27.2 -57.7,-25.2 -62.5,-22"],
Chile:["-70.4,-18.3 -69.5,-17.3 -68.2,-21.5 -67,-23 -68.5,-25 -69.8,-30 -70.3,-33 -70.5,-36 -71.3,-39 -71.8,-44 -71.8,-46 -72.5,-49.5 -72.3,-52 -68.4,-52.3 -68.6,-54.8 -66.5,-55.2 -71,-55 -75,-51.5 -75.5,-47 -73.5,-42 -73.5,-37 -71.5,-32 -70.5,-25 -70.2,-20"],
Argentina:["-66.3,-21.8 -64.5,-22.5 -62.5,-22 -57.7,-25.2 -58.6,-27.2 -55,-27.3 -53.8,-27 -57.6,-30.2 -58.2,-33 -58.4,-34 -57,-36 -57.7,-38 -62,-39 -62.3,-40.8 -65,-41 -63.8,-42.5 -65.3,-44.5 -67.5,-46 -65.8,-47.5 -69,-50.5 -68.4,-52.3 -72.3,-52 -72.5,-49.5 -71.8,-46 -71.8,-44 -71.3,-39 -70.5,-36 -70.3,-33 -69.8,-30 -68.5,-25 -67,-23 -68.2,-21.5"],TierraFuego:["-68.4,-52.7 -65.2,-54.8 -68.6,-54.9"],
Uruguay:["-58.2,-33 -57.6,-30.2 -55.5,-30.8 -53.2,-32.5 -53.5,-33.7 -55,-35 -58.4,-34"],
Mexico:["-117.1,32.5 -114.8,32.5 -111,31.3 -108.2,31.5 -106.5,31.8 -104.8,30.5 -103,29 -101,29.5 -99.5,27.5 -97.3,26 -97.8,22.5 -96,19 -94.5,18.2 -91.5,18.6 -90.5,21 -87,21.5 -87.8,18.5 -88.5,18.5 -89,17.9 -91,17.9 -91,16 -92.2,14.6 -94.5,16.2 -97,15.9 -101,17.5 -105.4,20 -105.7,22 -109,25.5 -109.5,26.7 -112,29 -113,31.2 -114.8,31.7 -114.7,30.2 -113,28 -111,25.5 -109.5,23.5 -110,22.9 -112,25 -114.5,27.5 -115.8,30"],
Belize:["-88.5,18.5 -87.8,18.5 -88.3,16 -89.1,16 -89,17.9"],Guatemala:["-91,17.9 -89,17.9 -89.1,16 -88.2,15.7 -89.3,14.4 -90,13.7 -92.2,14.6 -91,16"],ElSalvador:["-90,13.7 -89.3,14.4 -87.8,13.9 -87.8,13.3"],
Honduras:["-89.3,14.4 -88.2,15.7 -86,16 -83.2,15 -85,14 -87,13 -87.8,13.3 -87.8,13.9"],Nicaragua:["-87.6,13 -87,13 -85,14 -83.2,15 -83.7,11 -85.7,11.1"],CostaRica:["-85.7,11.1 -83.7,11 -82.6,9.5 -83,8.3 -85,10"],
Panama:["-83,8.3 -82.6,9.5 -81,8.8 -79.5,9.6 -77.4,8.6 -77.9,7.3 -78.5,8.5 -80,7.3 -81,7.8"],
Cuba:["-85,21.9 -82.5,23.1 -80,23 -75,20.7 -74.2,20.2 -77.7,19.9 -78,20.7 -82,22.4"],Haiti:["-74.5,18.4 -72,18 -71.7,19.7 -73.3,19.9 -72.8,18.9"],DomRep:["-72,18 -71.7,19.7 -70,19.9 -68.4,18.6 -71,18"],Bahamas:["-78.2,26.7 -77,26.8 -77.5,26.4","-77.8,25 -77.3,24 -77.6,24"],
Australia:["114,-22 114.2,-26 115,-30 115,-34.4 118,-35 123.5,-33.9 126,-32.3 131,-31.5 134,-33 135.7,-34.8 137.8,-33 138,-35.5 140.5,-38 143.5,-38.8 146.5,-39 150,-37.3 151,-34 153,-31 153.6,-28.5 153,-25.5 150.8,-23 149,-20.5 146,-19 145.3,-15 143.7,-14.3 142.5,-10.8 141.6,-13 140.8,-17.5 137.5,-16 135.5,-15 136.8,-12 132.5,-11.3 130,-13 129,-15 125,-14.5 122,-18 119,-20 115.5,-21"],Tasmania:["144.7,-40.7 148.2,-40.8 148,-43 146.5,-43.6 145.3,-42.5"],
NewZealand:["172.7,-34.5 174.5,-36 176,-37.5 178.5,-37.7 177,-39.5 175.3,-41.6 175,-40 173.8,-39.3 174.8,-37.5","172.7,-40.5 174.2,-41.5 172.8,-43.8 171,-44.5 170.8,-45.9 168.5,-46.6 166.5,-46 168.5,-44 171,-42.5"],
Superior:["-92,46.8 -88.5,48.6 -85,47.9 -84.6,46.6 -87,46.5"],Michigan:["-87.8,42 -86.4,42 -85,45.7 -87,45.7 -88,44.5"],Huron:["-84.5,46 -80,45.8 -80,44.5 -81.7,43.2 -82.6,43.2 -83.7,44.5"],Erie:["-83.3,41.6 -79,42.7 -79,43 -83,42.2"],Ontario:["-79.8,43.3 -76.3,43.4 -76.3,44.1 -79,43.9"],GreatBear:["-123,65.5 -118,65.5 -118,67 -122,67"],GreatSlave:["-117,61 -110,62.5 -109,63 -114,62.6"],Winnipeg:["-98,51 -96.5,51 -97.5,54 -99,53.8"],
Victoria:["31.8,-0.5 33.9,0.4 34.2,-1 33.5,-2.4 32,-2.6"],Tanganyika:["29.4,-3.6 29.7,-3.6 30,-5 30.8,-8.2 30.5,-8.3 29.5,-6"],Nyasa:["34.2,-9.6 34.5,-9.7 34.9,-11.6 34.8,-14 34.5,-14 34.4,-12"],Maracaibo:["-72,10.7 -71.3,10.7 -71,9.2 -71.7,9.2"],Titicaca:["-69.9,-15.2 -69.2,-15.8 -69,-16.4 -69.8,-15.9"],Aral:["58.5,46.5 61.5,46.5 60,44 58.3,44"],Balkhash:["73.5,46 79,46.6 79,46 74.5,45"],Ladoga:["30.5,60 32.8,60.7 32,61.7 30.2,61"]
};

const width = 3701, height = 1862;
const lenAt = d3.scaleLinear().domain(robLat).range(robLen).clamp(true);
const dropAt = d3.scaleLinear().domain(robLat).range(robDrop).clamp(true);
const centralMeridian = 11;
const x = d3.scaleLinear().domain([-180,180]).range([1795-1908,1795+1908]);
const y = d3.scaleLinear().domain([-1,1]).range([969+967,969-967]);
const project = (lon,lat) => [x((lon-centralMeridian)*lenAt(Math.abs(lat))), y(Math.sign(lat)*dropAt(Math.abs(lat)))];
const robinson = d3.geoTransform({point(lon,lat){const p=project(lon,lat);this.stream.point(p[0],p[1]);}});
const path = d3.geoPath(robinson);
// marker grid
const markerX = d3.scaleLinear().domain([-180,180]).range([1688-1911.6,1688+1911.6]);
const markerY = d3.scaleLinear().domain([-1,1]).range([976+967,976-967]);
const markerAt = (lon,lat) => [markerX(lon*lenAt(Math.abs(lat))), markerY(Math.sign(lat)*dropAt(Math.abs(lat)))];

const parsePts = s => s.split(" ").map(p=>p.split(",").map(Number));
const key = p => p[0].toFixed(4)+","+p[1].toFixed(4);
// interpolating 4-point subdivision; junctions and sharp corners stay put, so shared borders stay shared
function subdivide(rings, cornerDeg){
  const nb = new Map();
  rings.forEach(r=>r.forEach((p,i)=>{
    const k=key(p); if(!nb.has(k)) nb.set(k,new Set());
    nb.get(k).add(key(r[(i+1)%r.length])); nb.get(k).add(key(r[(i-1+r.length)%r.length]));
  }));
  return rings.map(r=>{
    const n=r.length, limit = n<=5 ? 175 : cornerDeg;
    const fixed = r.map((p,i)=>{
      if(nb.get(key(p)).size>2) return true;
      const a=r[(i-1+n)%n], c=r[(i+1)%n];
      let t=Math.abs(Math.atan2(c[1]-p[1],c[0]-p[0])-Math.atan2(p[1]-a[1],p[0]-a[0]))*180/Math.PI;
      if(t>180) t=360-t;
      return t>limit;
    });
    const out=[];
    r.forEach((b,i)=>{
      const j=(i+1)%n, c=r[j];
      const a=fixed[i]?b:r[(i-1+n)%n], d=fixed[j]?c:r[(j+1)%n];
      out.push(b);
      out.push([0,1].map(q=>(9*b[q]+9*c[q]-a[q]-d[q])/16));
    });
    return out;
  });
}
function densify(r){
  const out=[];
  r.forEach((a,i)=>{
    const b=r[(i+1)%r.length];
    const n=Math.max(1,Math.ceil(Math.hypot(b[0]-a[0],b[1]-a[1])/2));
    d3.range(n).forEach(k=>out.push([a[0]+(b[0]-a[0])*k/n,a[1]+(b[1]-a[1])*k/n]));
  });
  out.push(out[0]);
  return out;
}
const colorOf = {};
binMembers.forEach((list,i)=>list.forEach(n=>colorOf[n]=binColors[i]));
noData.forEach(n=>colorOf[n]=noDataColor);
const names = Object.keys(geo).filter(n=>colorOf[n]);
function buildFeatures(list, cornerDeg){
  const flat=[], owner=[];
  list.forEach(n=>geo[n].forEach(s=>{flat.push(parsePts(s));owner.push(n);}));
  let rings=flat;
  d3.range(2).forEach(()=>{rings=subdivide(rings,cornerDeg);});
  return list.map(n=>({type:"Feature",properties:{name:n},geometry:{type:"MultiPolygon",
    coordinates:rings.filter((r,i)=>owner[i]===n).map(r=>[densify(r)])}}));
}
const countryFeatures = buildFeatures(names,75);
const lakeFeatures = buildFeatures(lakes,175);

const svg = d3.select("#map");
svg.append("defs").append("filter").attr("id","soft").append("feGaussianBlur").attr("stdDeviation",0.7);
const land = svg.append("g").attr("filter","url(#soft)");
land.selectAll("path.under").data(countryFeatures).join("path").attr("class","under")
  .attr("d",path).attr("fill",d=>colorOf[d.properties.name]).attr("stroke",d=>colorOf[d.properties.name]).attr("stroke-width",2.5).attr("stroke-linejoin","round");
land.selectAll("path.country").data(countryFeatures).join("path").attr("class","country")
  .attr("d",path).attr("fill",d=>colorOf[d.properties.name])
  .attr("stroke","#ffe9c4").attr("stroke-opacity",.6).attr("stroke-width",1.3).attr("stroke-linejoin","round");
land.selectAll("path.lake").data(lakeFeatures).join("path").attr("class","lake").attr("d",path).attr("fill","#fff");
land.selectAll("circle.tiny").data(markers).join("circle").attr("class","tiny")
  .attr("cx",d=>markerAt(d[1],d[2])[0]).attr("cy",d=>markerAt(d[1],d[2])[1]).attr("r",d=>d[4])
  .attr("fill",d=>binColors[d[3]]).attr("stroke","#8a7a60").attr("stroke-width",1.8);

// legend
const swatchX = d3.scaleOrdinal().domain(binLabels).range([439,594,770,967,1172,1371,1572,1793,2039,2283]);
const labelX  = d3.scaleOrdinal().domain(binLabels).range([519,674,852,1057,1253,1452,1652,1873,2120,2364]);
const legend = svg.append("g");
legend.append("text").attr("x",437).attr("y",1712).attr("font-size",41.3).text(legendTitle);
legend.selectAll("rect").data(binLabels).join("rect")
  .attr("x",d=>swatchX(d)).attr("y",1739).attr("width",68).attr("height",69)
  .attr("fill",(d,i)=>binColors[i]).attr("stroke","#444").attr("stroke-width",2.5);
legend.selectAll("text.bin").data(binLabels).join("text").attr("class","bin")
  .attr("x",d=>labelX(d)).attr("y",1787).attr("font-size",41.3).text(d=>d);
</script></body></html>
